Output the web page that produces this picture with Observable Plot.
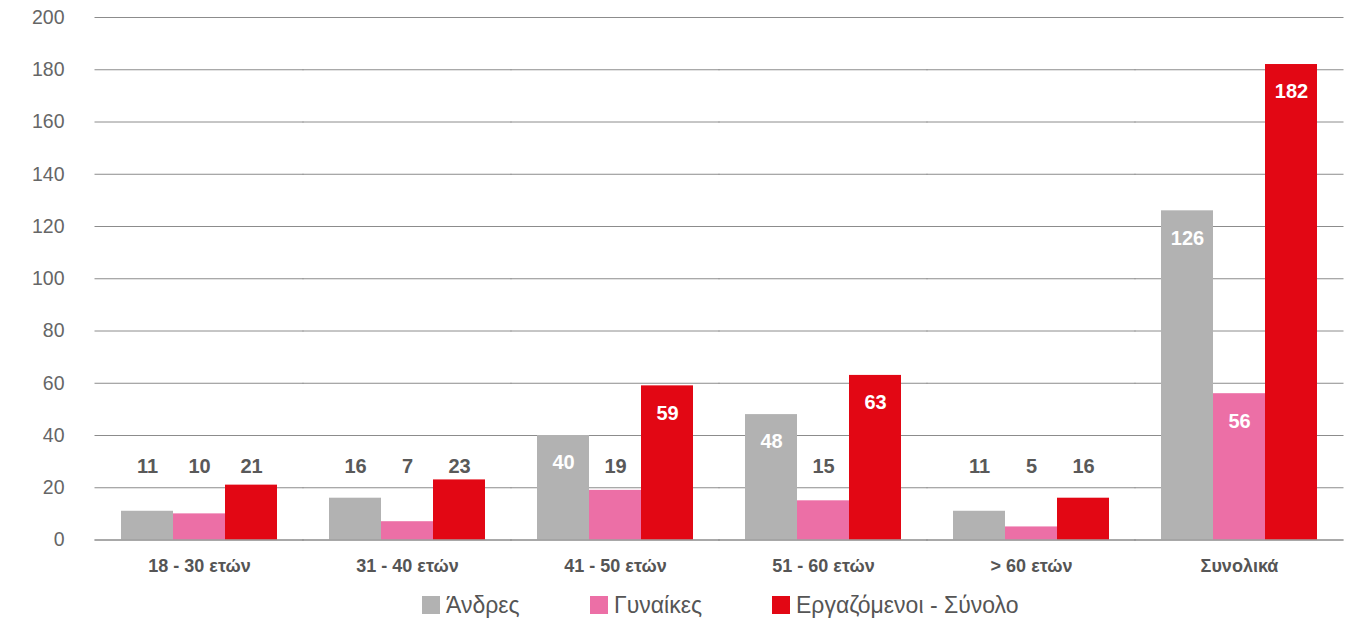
<!DOCTYPE html>
<html>
<head>
<meta charset="utf-8">
<script src="https://cdn.jsdelivr.net/npm/d3@7"></script>
<script src="https://cdn.jsdelivr.net/npm/@observablehq/plot@0.6"></script>
<style>
  html, body { margin: 0; padding: 0; background: #fff; }
  body { width: 1357px; font-family: "Liberation Sans", Arial, sans-serif; }
  #legend { position: relative; height: 38px; }
  .item { position: absolute; top: 0; height: 40px; display: flex; align-items: center; font-size: 23px; color: #555; white-space: nowrap; }
  .sw { width: 18px; height: 18px; margin-right: 6px; }
</style>
</head>
<body>
<div id="chart"></div>
<div id="legend"></div>
<script>
const groups = ["18 - 30 ετών", "31 - 40 ετών", "41 - 50 ετών", "51 - 60 ετών", "> 60 ετών", "Συνολικά"];
const seriesNames = ["Άνδρες", "Γυναίκες", "Εργαζόμενοι - Σύνολο"];
const seriesColors = ["#b2b2b2", "#ec6fa6", "#e20714"];
const men = [11, 16, 40, 48, 11, 126];
const women = [10, 7, 19, 15, 5, 56];
const total = [21, 23, 59, 63, 16, 182];
const yTicks = [0, 20, 40, 60, 80, 100, 120, 140, 160, 180, 200];

const seriesValues = [men, women, total];
const data = [];
groups.forEach((g, i) => {
  seriesNames.forEach((s, j) => {
    data.push({group: g, series: s, value: seriesValues[j][i]});
  });
});

const floorLabel = 28.2;   // labels never sit lower than this level
const insideOffset = 10.5; // inside-end offset in data units
data.forEach(d => {
  d.labelY = Math.max(d.value - insideOffset, floorLabel);
  d.inside = d.value > floorLabel + 5;
});

const chart = Plot.plot({
  width: 1357,
  height: 585,
  marginLeft: 95,
  marginRight: 14,
  marginTop: 17,
  marginBottom: 45.5,
  style: {fontFamily: "Liberation Sans, Arial, sans-serif", background: "#fff"},
  fx: {domain: groups, paddingInner: 50 / 208, paddingOuter: 25 / 208, label: null, axis: null},
  x: {domain: seriesNames, padding: 0, axis: null},
  y: {domain: [0, 200], axis: null},
  color: {domain: seriesNames, range: seriesColors},
  marks: [
    Plot.ruleY(yTicks, {stroke: "#8c8c8c", strokeWidth: 1, insetLeft: -25.5, insetRight: -25.5}),
    Plot.barY(data, {fx: "group", x: "series", y: "value", fill: "series", inset: 0}),
    Plot.ruleY([0], {stroke: "#8c8c8c", strokeWidth: 1.2, insetLeft: -25.5, insetRight: -25.5}),
    Plot.text(data, {fx: "group", x: "series", y: "labelY", text: d => String(d.value),
      fill: d => d.inside ? "#ffffff" : "#595959", fontSize: 20, fontWeight: "bold"}),
    Plot.axisY(yTicks, {tickSize: 0, tickPadding: 56, fontSize: 19.5, fill: "#666", anchor: "left"}),
    Plot.axisFx({anchor: "bottom", tickSize: 0, tickPadding: 19, fontSize: 18, fontWeight: "bold", fill: "#555", label: null})
  ]
});
document.getElementById("chart").append(chart);

const legendLeft = [422, 590, 772];
const legend = document.getElementById("legend");
seriesNames.forEach((s, i) => {
  const item = document.createElement("div");
  item.className = "item";
  item.style.left = legendLeft[i] + "px";
  const sw = document.createElement("span");
  sw.className = "sw";
  sw.style.background = seriesColors[i];
  const t = document.createElement("span");
  t.textContent = s;
  item.append(sw, t);
  legend.append(item);
});
</script>
</body>
</html>
